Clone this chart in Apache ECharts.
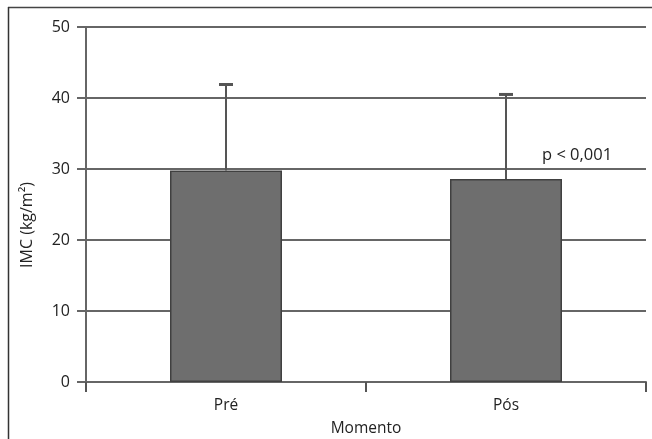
<!DOCTYPE html>
<html>
<head>
<meta charset="utf-8">
<script src="https://cdn.jsdelivr.net/npm/echarts@6/dist/echarts.min.js"></script>
<style>html,body{margin:0;padding:0;background:#fff;overflow:hidden;}#c{width:652px;height:439px;}</style>
</head>
<body>
<div id="c"></div>
<script>
const categories = ['Pré', 'Pós'];
const means = [29.8, 28.6];
const upperErr = [41.9, 40.5];
const yTicks = [0, 10, 20, 30, 40, 50];
const yName = 'IMC (kg/m²)';
const xName = 'Momento';
const pText = 'p < 0,001';

const chart = echarts.init(document.getElementById('c'));
const font = 'Open Sans';
chart.setOption({
  animation: false,
  backgroundColor: '#fff',
  grid: { left: 86, right: 6, top: 27, height: 355, containLabel: false, outerBoundsMode: 'none' },
  xAxis: {
    type: 'category',
    data: categories,
    name: xName,
    nameLocation: 'middle',
    nameGap: 39,
    nameTextStyle: { fontFamily: font, fontSize: 15.5, color: '#222' },
    axisLine: { lineStyle: { color: '#666', width: 2 } },
    axisTick: { show: true, length: 10, inside: false, lineStyle: { color: '#555', width: 2 } },
    axisLabel: { fontFamily: font, fontSize: 15.5, color: '#222', margin: 16 }
  },
  yAxis: {
    type: 'value',
    min: yTicks[0], max: yTicks[yTicks.length - 1], interval: 10,
    axisLine: { show: true, lineStyle: { color: '#666', width: 2 } },
    axisTick: { show: true, length: 9, lineStyle: { color: '#666', width: 2 } },
    axisLabel: { fontFamily: font, fontSize: 16, color: '#222', margin: 16 },
    splitLine: { show: true, lineStyle: { color: '#666', width: 2 } }
  },
  series: [
    {
      type: 'bar',
      data: means,
      barWidth: '40%',
      itemStyle: { color: '#6e6e6e', borderColor: '#404040', borderWidth: 1.5 },
      z: 3
    },
    {
      type: 'custom',
      data: categories.map((c, i) => [i, means[i], upperErr[i]]),
      z: 4,
      renderItem: function (params, api) {
        const base = api.coord([api.value(0), api.value(1)]);
        const top = api.coord([api.value(0), api.value(2)]);
        return {
          type: 'group',
          children: [
            { type: 'line', shape: { x1: base[0], y1: base[1], x2: top[0], y2: top[1] }, style: { stroke: '#555', lineWidth: 2 } },
            { type: 'line', shape: { x1: top[0] - 7, y1: top[1], x2: top[0] + 7, y2: top[1] }, style: { stroke: '#555', lineWidth: 3 } }
          ]
        };
      }
    }
  ],
  graphic: [
    { type: 'line', shape: { x1: 8, y1: 7.5, x2: 652, y2: 7.5 }, style: { stroke: '#444', lineWidth: 1.5 } },
    { type: 'line', shape: { x1: 8.5, y1: 7, x2: 8.5, y2: 439 }, style: { stroke: '#333', lineWidth: 1.5 } },
    { type: 'text', x: 27, y: 225, rotation: Math.PI / 2, style: { text: yName, fontFamily: font, fontSize: 16, fill: '#222', align: 'center', verticalAlign: 'middle' } },
    { type: 'text', left: 542, top: 147, style: { text: pText, fontFamily: font, fontSize: 16.5, fill: '#222' } }
  ]
});
</script>
</body>
</html>
